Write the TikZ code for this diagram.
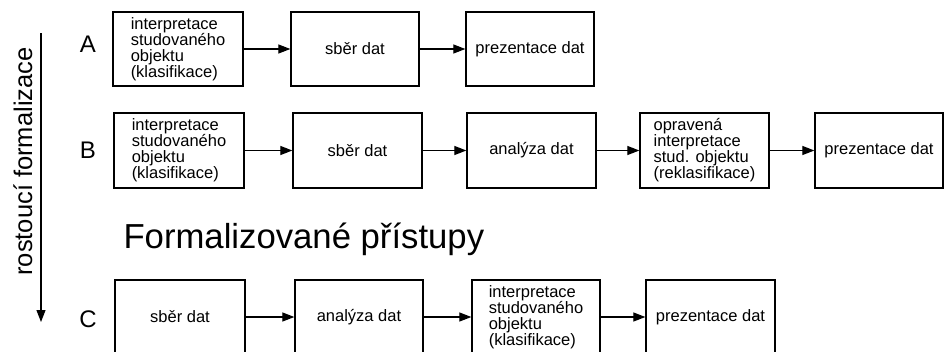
\documentclass[tikz,border=0pt]{standalone}
\usepackage{fontspec}
\setmainfont{Liberation Sans}
\usetikzlibrary{arrows.meta}
\begin{document}
\begin{tikzpicture}[x=1pt,y=-1pt,
  box/.style={draw, line width=1.3pt, inner sep=0pt, align=left,
    font=\fontsize{16.5}{16}\selectfont},
  conn/.style={line width=1.2pt, -{Triangle[length=12pt,width=9pt]}},
  lab/.style={font=\fontsize{24}{24}\selectfont}]
\useasboundingbox[fill=white] (0,0) rectangle (944,351);
% axis
\coordinate (top) at (41,33);
\coordinate (bot) at (41,322);
\draw[line width=1.2pt, -{Triangle[length=12pt,width=9pt]}] (top) -- (bot);
\node[rotate=90, anchor=base, font=\fontsize{25.5}{25.5}\selectfont] (axis) at (32,161.5) {rostoucí formalizace};
% labels
\node[lab] (la) at (88,44) {A};
\node[lab] (lb) at (88,150) {B};
\node[lab] (lc) at (88,319) {C};
\node[font=\fontsize{34.7}{34.7}\selectfont, anchor=base west] (title) at (120,248) {Formalizované přístupy};
% row A
\begin{scope}[every node/.append style={minimum height=74pt}]
\node[box, minimum width=130pt] (a1) at (178,49) {interpretace\\studovaného\\objektu\\(klasifikace)};
\node[box, minimum width=128pt] (a2) at (355,49) {sběr dat};
\node[box, minimum width=128pt] (a3) at (530,49) {prezentace dat};
\end{scope}
% row B
\begin{scope}[every node/.append style={minimum height=75pt}]
\node[box, minimum width=130pt] (b1) at (179,150.5) {interpretace\\studovaného\\objektu\\(klasifikace)};
\node[box, minimum width=129pt] (b2) at (357.5,150.5) {sběr dat};
\node[box, minimum width=129pt] (b3) at (531.5,150.5) {analýza dat};
\node[box, minimum width=129pt] (b4) at (704.5,150.5) {opravená\\interpretace\\stud. objektu\\(reklasifikace)};
\node[box, minimum width=128pt] (b5) at (879,150.5) {prezentace dat};
\end{scope}
% row C
\begin{scope}[every node/.append style={minimum height=74pt}]
\node[box, minimum width=130pt] (c1) at (180,317) {sběr dat};
\node[box, minimum width=128pt] (c2) at (359,317) {analýza dat};
\node[box, minimum width=128pt] (c3) at (536,317) {interpretace\\studovaného\\objektu\\(klasifikace)};
\node[box, minimum width=129pt] (c4) at (710.5,317) {prezentace dat};
\end{scope}
% connectors
\draw[conn] (a1) -- (a2);
\draw[conn] (a2) -- (a3);
\draw[conn] (b1) -- (b2);
\draw[conn] (b2) -- (b3);
\draw[conn] (b3) -- (b4);
\draw[conn] (b4) -- (b5);
\draw[conn] (c1) -- (c2);
\draw[conn] (c2) -- (c3);
\draw[conn] (c3) -- (c4);
\end{tikzpicture}
\end{document}
